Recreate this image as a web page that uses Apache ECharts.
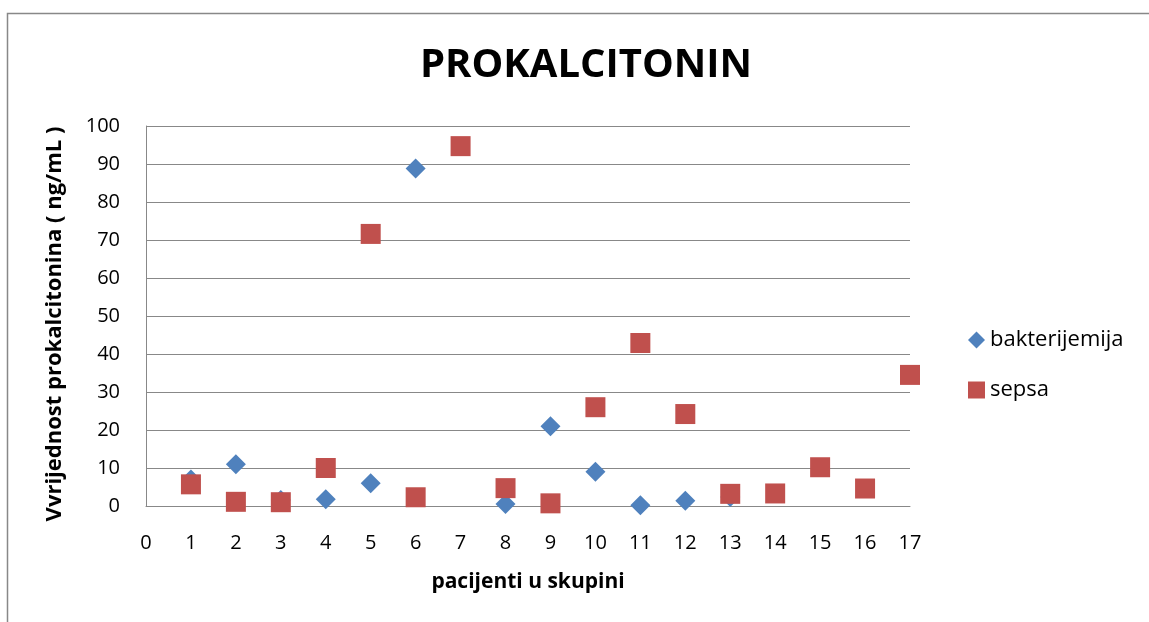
<!DOCTYPE html>
<html>
<head>
<meta charset="utf-8">
<script src="https://cdn.jsdelivr.net/npm/echarts@6/dist/echarts.min.js"></script>
<style>html,body{margin:0;padding:0;background:#fff}#c{width:1149px;height:622px}</style>
</head>
<body>
<div id="c"></div>
<script>
const patients = [1,2,3,4,5,6,7,8,9,10,11,12,13,14,15,16,17];
const bakterijemija = [7.0, 11.0, 1.6, 1.8, 6.0, 88.8, null, 0.5, 21.0, 9.0, 0.2, 1.4, 2.4, null, null, null, null];
const sepsa = [5.7, 1.1, 1.0, 10.0, 71.6, 2.3, 94.7, 4.7, 0.7, 26.0, 42.9, 24.2, 3.2, 3.3, 10.2, 4.6, 34.5];
const seriesNames = ['bakterijemija', 'sepsa'];
const titleText = 'PROKALCITONIN';
const xName = 'pacijenti u skupini';
const yName = 'Vvrijednost prokalcitonina ( ng/mL )';

function pairs(vals){ return patients.map((p,i)=>[p, vals[i]]).filter(d=>d[1]!==null); }

const font = '"Open Sans", "Noto Sans", sans-serif';
const chart = echarts.init(document.getElementById('c'));
chart.setOption({
  animation: false,
  backgroundColor: '#fff',
  graphic: [{type:'rect', shape:{x:7.5, y:13.5, width:1300, height:800}, style:{fill:'none', stroke:'#888', lineWidth:1.5}, z:-1}],
  title: {text: titleText, left: 581, top: 41, textAlign: 'center',
    textStyle:{fontFamily: font, fontWeight:'bold', fontSize:40, color:'#000'}},
  legend: [
    {data:[{name: seriesNames[0], icon:'diamond'}], left: 963, top: 324, itemWidth:17, itemHeight:17, itemGap:6,
     textStyle:{fontFamily: font, fontSize:22, color:'#000'}},
    {data:[{name: seriesNames[1], icon:'rect'}], left: 963, top: 374, itemWidth:17, itemHeight:17, itemGap:6,
     textStyle:{fontFamily: font, fontSize:22, color:'#000'}}
  ],
  grid: {left:146, right:239, top:126, bottom:116},
  xAxis: {type:'value', min:0, max:17, interval:1,
    name: xName, nameLocation:'middle', nameGap:66,
    nameTextStyle:{fontFamily: font, fontWeight:'bold', fontSize:21, color:'#000'},
    axisLine:{show:true, lineStyle:{color:'#888', width:1}},
    axisTick:{show:false}, splitLine:{show:false},
    axisLabel:{fontFamily: font, fontSize:20, color:'#000', margin:27}},
  yAxis: {type:'value', min:0, max:100, interval:10,
    name: yName, nameLocation:'middle', nameGap:80, nameRotate:90,
    nameTextStyle:{fontFamily: font, fontWeight:'bold', fontSize:22, color:'#000', padding:[0,16,0,0]},
    axisLine:{show:true, lineStyle:{color:'#888', width:1}},
    axisTick:{show:false},
    splitLine:{show:true, lineStyle:{color:'#888', width:1}},
    axisLabel:{fontFamily: font, fontSize:20, color:'#000', margin:26}},
  series: [
    {name: seriesNames[0], type:'scatter', symbol:'diamond', symbolSize:20,
     itemStyle:{color:'#4F81BD', opacity:1}, data: pairs(bakterijemija)},
    {name: seriesNames[1], type:'scatter', symbol:'rect', symbolSize:20,
     itemStyle:{color:'#C0504D', opacity:1}, data: pairs(sepsa)}
  ]
});
</script>
</body>
</html>
